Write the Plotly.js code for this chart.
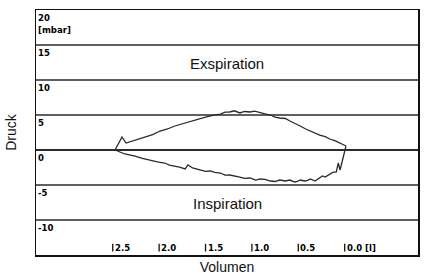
<!DOCTYPE html>
<html>
<head>
<meta charset="utf-8">
<script src="https://cdn.plot.ly/plotly-3.0.1.min.js"></script>
<style>html,body{margin:0;padding:0;background:#fff;}#chart{width:424px;height:276px;}</style>
</head>
<body>
<div id="chart"></div>
<script>
// Upper branch (expiration), volume in litres, pressure in mbar
const expVolume = [2.475, 2.40, 2.357, 2.30, 2.26, 2.20, 2.15, 2.07, 1.99, 1.91, 1.83, 1.75, 1.67, 1.58, 1.50, 1.42, 1.34, 1.29, 1.24, 1.19, 1.13, 1.08, 1.02, 0.97, 0.91, 0.86, 0.80, 0.75, 0.70, 0.64, 0.59, 0.53, 0.48, 0.42, 0.37, 0.32, 0.27, 0.21, 0.16, 0.10, 0.05, -0.014];
const expPressure = [0.0, 1.86, 1.0, 1.25, 1.43, 1.6, 1.86, 2.2, 2.71, 3.0, 3.43, 3.75, 4.14, 4.45, 4.71, 4.95, 5.14, 5.4, 5.43, 5.6, 5.29, 5.5, 5.43, 5.55, 5.29, 5.15, 5.0, 4.7, 4.57, 4.5, 4.14, 3.8, 3.43, 3.0, 2.71, 2.45, 2.14, 1.9, 1.57, 1.3, 1.0, 0.57];
// Lower branch (inspiration)
const inspVolume = [-0.014, 0.0, 0.02, 0.05, 0.07, 0.09, 0.13, 0.16, 0.19, 0.21, 0.24, 0.27, 0.32, 0.37, 0.40, 0.43, 0.48, 0.51, 0.54, 0.59, 0.64, 0.70, 0.75, 0.80, 0.86, 0.91, 0.96, 1.02, 1.08, 1.13, 1.19, 1.24, 1.29, 1.34, 1.40, 1.45, 1.50, 1.56, 1.60, 1.64, 1.69, 1.72, 1.78, 1.83, 1.89, 1.94, 2.02, 2.10, 2.18, 2.26, 2.37, 2.475];
const inspPressure = [0.57, -0.29, -1.43, -2.86, -1.86, -3.14, -3.2, -3.43, -3.6, -3.86, -3.7, -4.0, -4.43, -4.14, -4.35, -4.43, -4.29, -4.5, -4.57, -4.29, -4.43, -4.29, -4.5, -4.43, -4.2, -4.14, -4.3, -4.0, -4.05, -3.86, -3.75, -3.57, -3.6, -3.29, -3.2, -3.0, -3.05, -2.86, -2.7, -2.57, -2.14, -2.71, -2.45, -2.29, -2.15, -1.86, -1.7, -1.43, -1.2, -0.86, -0.57, 0.0];

const pressureTicks = [20, 15, 10, 5, 0, -5, -10];
const pressureTickText = ["20<br>[mbar]", "15", "10", "5", "0", "-5", "-10"];
const volumeTicks = [2.5, 2.0, 1.5, 1.0, 0.5, 0.0];
const volumeTickText = ["2.5", "2.0", "1.5", "1.0", "0.5", "0.0 [l]"];

const xRange = [3.327, -0.79];
const yRange = [-15, 20];
const lineColor = "#2a2a2a";

const traces = [
  {x: expVolume, y: expPressure, type: "scatter", mode: "lines", name: "Exspiration",
   line: {color: lineColor, width: 1.3}, showlegend: false, hoverinfo: "skip"},
  {x: inspVolume, y: inspPressure, type: "scatter", mode: "lines", name: "Inspiration",
   line: {color: lineColor, width: 1.3}, showlegend: false, hoverinfo: "skip"}
];

const shapes = [];
pressureTicks.slice(1).forEach(v => {
  shapes.push({type: "line", xref: "paper", yref: "y", x0: 0, x1: 1, y0: v, y1: v,
    line: {color: "#2b2b2b", width: v === 0 ? 1.8 : 1.6}});
});
volumeTicks.forEach(v => {
  shapes.push({type: "line", xref: "x", yref: "y", x0: v, x1: v, y0: -14.5, y1: -13.4,
    line: {color: "#111", width: 1.3}});
});

const tickFont = {family: "DejaVu Sans Condensed, DejaVu Sans, sans-serif", size: 9.5, color: "#000", weight: "bold"};
const annotations = [];
pressureTicks.forEach((v, i) => {
  annotations.push({xref: "paper", yref: "y", x: 0, y: v, xanchor: "left", yanchor: "top",
    yshift: 0, xshift: 0, text: pressureTickText[i], showarrow: false,
    align: "left", font: tickFont});
});
volumeTicks.forEach((v, i) => {
  annotations.push({xref: "x", yref: "y", x: v, y: -13.95, xanchor: "left", yanchor: "middle",
    xshift: 0, text: volumeTickText[i], showarrow: false, font: tickFont});
});
annotations.push({xref: "paper", yref: "y", x: 0.5, y: 12.4, text: "Exspiration", showarrow: false,
  font: {family: "Liberation Sans, Arial, sans-serif", size: 15, color: "#111"}});
annotations.push({xref: "paper", yref: "y", x: 0.5, y: -7.7, text: "Inspiration", showarrow: false,
  font: {family: "Liberation Sans, Arial, sans-serif", size: 15, color: "#111"}});

const layout = {
  width: 424, height: 276,
  margin: {l: 36, r: 6, t: 10, b: 21},
  paper_bgcolor: "#fff", plot_bgcolor: "#fff",
  showlegend: false,
  xaxis: {range: xRange, showgrid: false, zeroline: false, showticklabels: false, ticks: "",
    showline: true, mirror: true, linecolor: "#111", linewidth: 1.5,
    title: {text: "Volumen", standoff: 6, font: {family: "Liberation Sans, Arial, sans-serif", size: 14, color: "#111"}}},
  yaxis: {range: yRange, showgrid: false, zeroline: false, showticklabels: false, ticks: "",
    showline: true, mirror: true, linecolor: "#111", linewidth: 1.5,
    title: {text: "Druck", standoff: 14, font: {family: "Liberation Sans, Arial, sans-serif", size: 14, color: "#111"}}},
  shapes: shapes,
  annotations: annotations
};

Plotly.newPlot("chart", traces, layout, {displayModeBar: false, staticPlot: true});
</script>
</body>
</html>
